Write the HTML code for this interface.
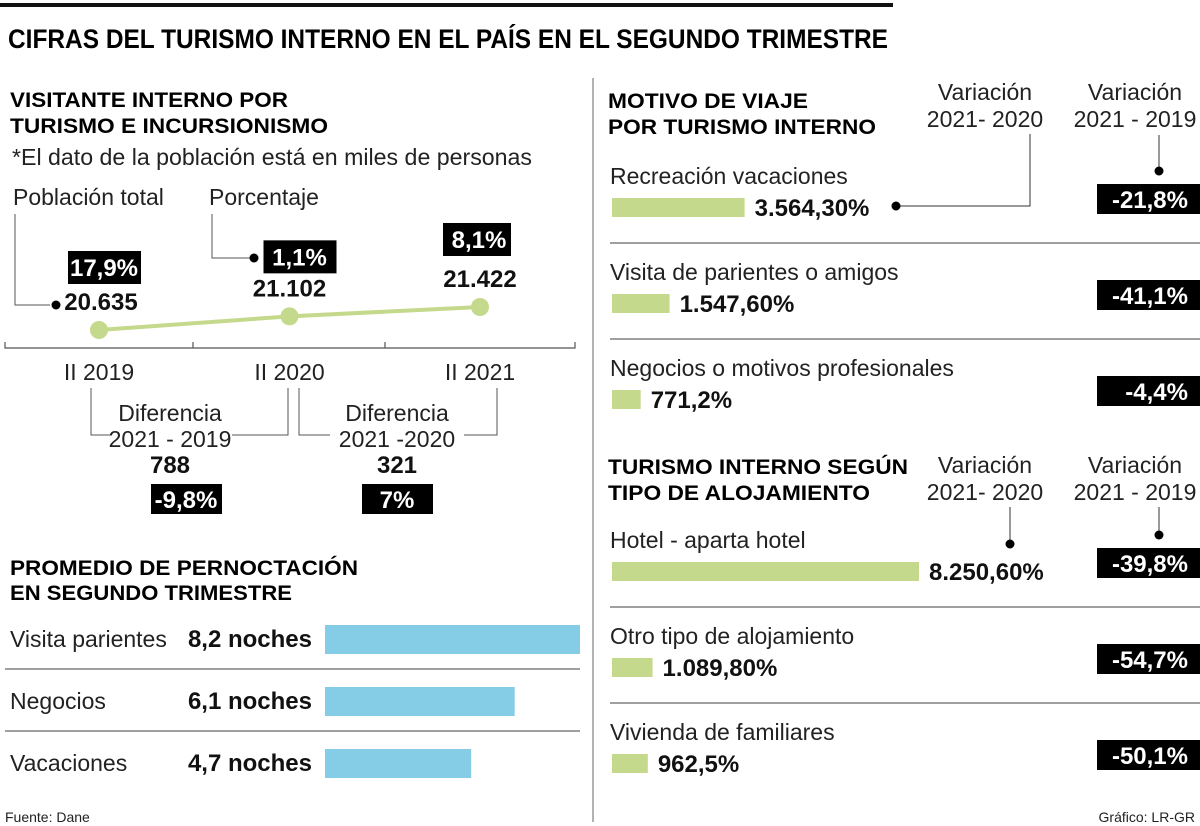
<!DOCTYPE html>
<html><head><meta charset="utf-8"><style>
body{margin:0;background:#fff}
svg{display:block;font-family:"Liberation Sans",sans-serif}
.r{font-size:23px;fill:#222}
.b{font-size:24px;font-weight:bold;fill:#111}
.h{font-size:21px;font-weight:bold;fill:#000}
.w{font-size:24px;font-weight:bold;fill:#fff}
</style></head><body>
<svg id="s" width="1200" height="826" viewBox="0 0 1200 826">
<rect x="0" y="3" width="893" height="4" fill="#111"/>
<text x="8" y="48" font-size="27" font-weight="bold" textLength="880" lengthAdjust="spacingAndGlyphs">CIFRAS DEL TURISMO INTERNO EN EL PAÍS EN EL SEGUNDO TRIMESTRE</text>
<line x1="593" y1="78" x2="593" y2="822" stroke="#999" stroke-width="1.5"/>

<g>
<text class="h" x="10" y="107" textLength="278" lengthAdjust="spacingAndGlyphs">VISITANTE INTERNO POR</text>
<text class="h" x="10" y="133" textLength="318" lengthAdjust="spacingAndGlyphs">TURISMO E INCURSIONISMO</text>
<text class="r" x="12" y="165" textLength="520" lengthAdjust="spacingAndGlyphs">*El dato de la población está en miles de personas</text>
<text class="r" x="13" y="205">Población total</text>
<text class="r" x="209" y="205">Porcentaje</text>
<polyline points="15,214 15,305 50,305" fill="none" stroke="#555"/>
<polyline points="212,214 212,258 250,258" fill="none" stroke="#555"/>
<circle cx="56" cy="305" r="4.5" fill="#000"/>
<circle cx="254" cy="258" r="4.5" fill="#000"/>
<g id="line-chart"></g>
<polyline points="91,388 91,435 112,435" fill="none" stroke="#555"/>
<polyline points="232,435 288,435 288,388" fill="none" stroke="#555"/>
<polyline points="299,388 299,435 330,435" fill="none" stroke="#555"/>
<polyline points="464,435 497,435 497,388" fill="none" stroke="#555"/>
<text class="r" x="170" y="421" text-anchor="middle">Diferencia</text>
<text class="r" x="170" y="447" text-anchor="middle">2021 - 2019</text>
<text class="b" x="170" y="473" text-anchor="middle">788</text>
<rect x="151" y="484" width="71" height="30" fill="#000"/>
<text class="w" x="186" y="508" text-anchor="middle">-9,8%</text>
<text class="r" x="397" y="421" text-anchor="middle">Diferencia</text>
<text class="r" x="397" y="447" text-anchor="middle">2021 -2020</text>
<text class="b" x="397" y="473" text-anchor="middle">321</text>
<rect x="362" y="484" width="71" height="30" fill="#000"/>
<text class="w" x="397" y="508" text-anchor="middle">7%</text>
</g>

<g>
<text class="h" x="10" y="575" textLength="348" lengthAdjust="spacingAndGlyphs">PROMEDIO DE PERNOCTACIÓN</text>
<text class="h" x="10" y="600" textLength="282" lengthAdjust="spacingAndGlyphs">EN SEGUNDO TRIMESTRE</text>
<g id="night-chart"></g>
<text x="5" y="822" font-size="14" fill="#222">Fuente: Dane</text>
</g>

<g>
<text class="h" x="608" y="108" textLength="200" lengthAdjust="spacingAndGlyphs">MOTIVO DE VIAJE</text>
<text class="h" x="608" y="134" textLength="268" lengthAdjust="spacingAndGlyphs">POR TURISMO INTERNO</text>
<text class="h" x="608" y="474" textLength="300" lengthAdjust="spacingAndGlyphs">TURISMO INTERNO SEGÚN</text>
<text class="h" x="608" y="500" textLength="262" lengthAdjust="spacingAndGlyphs">TIPO DE ALOJAMIENTO</text>
<g id="right-charts"></g>
<text x="1195" y="822" font-size="14" fill="#222" text-anchor="end">Gráfico: LR-GR</text>
</g>
</svg>
<script>
const NS="http://www.w3.org/2000/svg";
// Line chart data
const quarters=["II 2019","II 2020","II 2021"];
const population=[20635,21102,21422];
const popLabels=["20.635","21.102","21.422"];
const pctLabels=["17,9%","1,1%","8,1%"];
// Overnight chart data
const nightCats=["Visita parientes","Negocios","Vacaciones"];
const nightValues=[8.2,6.1,4.7];
const nightLabels=["8,2 noches","6,1 noches","4,7 noches"];
// Motive chart data
const motiveCats=["Recreación vacaciones","Visita de parientes o amigos","Negocios o motivos profesionales"];
const motiveValues=[3564.3,1547.6,771.2];
const motiveLabels=["3.564,30%","1.547,60%","771,2%"];
const motiveVar19=["-21,8%","-41,1%","-4,4%"];
// Lodging chart data
const lodgeCats=["Hotel - aparta hotel","Otro tipo de alojamiento","Vivienda de familiares"];
const lodgeValues=[8250.6,1089.8,962.5];
const lodgeLabels=["8.250,60%","1.089,80%","962,5%"];
const lodgeVar19=["-39,8%","-54,7%","-50,1%"];

function mk(p,tag,at,txt){const e=document.createElementNS(NS,tag);for(const k in at)e.setAttribute(k,at[k]);if(txt!=null)e.textContent=txt;p.appendChild(e);return e;}

// line chart
const lc=document.getElementById('line-chart');
const xq=i=>99+i*190.5;
const yp=v=>330-(v-20635)*(23/787);
const axis=mk(lc,'path',{d:'M5,342 V348 H575 V342 M193,348 V342 M385,348 V342',fill:'none',stroke:'#555','stroke-width':1.2});


const ln=mk(lc,'polyline',{points:population.map((v,i)=>xq(i)+','+yp(v)).join(' '),fill:'none',stroke:'#c5d98c','stroke-width':4});


const boxOff=[[-30,-79,-46],[-27,-76,-43],[-35,-84,-49]];
population.forEach((v,i)=>{
 const x=xq(i),y=yp(v);
 const c=mk(lc,'circle',{cx:x,cy:y,r:9,fill:'#c5d98c'});
 
 
 const lx=i==0?x+2:x;
 const t=mk(lc,'text',{x:lx,y:y-20,class:'b','text-anchor':'middle'},popLabels[i]);
 
 
 const bx=i==0?x+5:(i==1?x+10:x-1);
 const r=mk(lc,'rect',{x:bx-36,y:y+boxOff[i][1],width:i==2?68:73,height:33,fill:'#000'});
 
 
 const pt=mk(lc,'text',{x:bx,y:y+boxOff[i][1]+25,class:'w','text-anchor':'middle'},pctLabels[i]);
 
 
 const q=mk(lc,'text',{x:x,y:380,class:'r','text-anchor':'middle'},quarters[i]);
 
 
});

// overnight bars
const nc=document.getElementById('night-chart');
const xn=v=>v*(255/8.2);
nightCats.forEach((c,i)=>{
 const yb=647+i*62;
 const t=mk(nc,'text',{x:10,y:yb,class:'r'},c);
 
 
 const v=mk(nc,'text',{x:312,y:yb,class:'b','text-anchor':'end'},nightLabels[i]);
 
 
 const b=mk(nc,'rect',{x:325,y:yb-22,width:xn(nightValues[i]),height:29,fill:'#85cde6'});
 
 
 if(i<2){const s=mk(nc,'line',{x1:5,x2:580,y1:yb+22,y2:yb+22,stroke:'#666','stroke-width':1.2});
 
 }
});

// right charts
const rc=document.getElementById('right-charts');
const xr=v=>v*(307/8250.6);
function header(y0){
 [[985,'Variación','2021- 2020'],[1135,'Variación','2021 - 2019']].forEach(h=>{
  const a=mk(rc,'text',{x:h[0],y:y0,class:'r','text-anchor':'middle'},h[1]);
  
  
  const b=mk(rc,'text',{x:h[0],y:y0+27,class:'r','text-anchor':'middle'},h[2]);
  
  
 });
}
function panel(cats,vals,labels,var19,y0,step){
 cats.forEach((c,i)=>{
  const yl=y0+i*step;
  const t=mk(rc,'text',{x:610,y:yl,class:'r'},c);
  
  
  const w=xr(vals[i]);
  const b=mk(rc,'rect',{x:612,y:yl+14,width:w,height:19,fill:'#c5d98c'});
  
  
  const v=mk(rc,'text',{x:612+w+10,y:yl+32,class:'b'},labels[i]);
  
  
  const r=mk(rc,'rect',{x:1097,y:yl,width:103,height:30,fill:'#000'});
  
  
  const p=mk(rc,'text',{x:1188,y:yl+24,class:'w','text-anchor':'end'},var19[i]);
  
  
  if(i<2){const s=mk(rc,'line',{x1:610,x2:1200,y1:yl+59,y2:yl+59,stroke:'#666','stroke-width':1.2});
  
  }
 });
}
header(100);
panel(motiveCats,motiveValues,motiveLabels,motiveVar19,184,96);
header(473);
panel(lodgeCats,lodgeValues,lodgeLabels,lodgeVar19,548,96);
// leaders
const l1=mk(rc,'polyline',{points:'896,206 1030,206 1030,134',fill:'none',stroke:'#333'});


mk(rc,'circle',{cx:896,cy:206,r:4.5,fill:'#000'});
const l2=mk(rc,'line',{x1:1159,y1:135,x2:1159,y2:170,stroke:'#333'});


mk(rc,'circle',{cx:1159,cy:171,r:4.5,fill:'#000'});
const l3=mk(rc,'line',{x1:1010,y1:507,x2:1010,y2:543,stroke:'#333'});


mk(rc,'circle',{cx:1010,cy:544,r:4.5,fill:'#000'});
const l4=mk(rc,'line',{x1:1159,y1:507,x2:1159,y2:534,stroke:'#333'});


mk(rc,'circle',{cx:1159,cy:535,r:4.5,fill:'#000'});
</script>
</body></html>
